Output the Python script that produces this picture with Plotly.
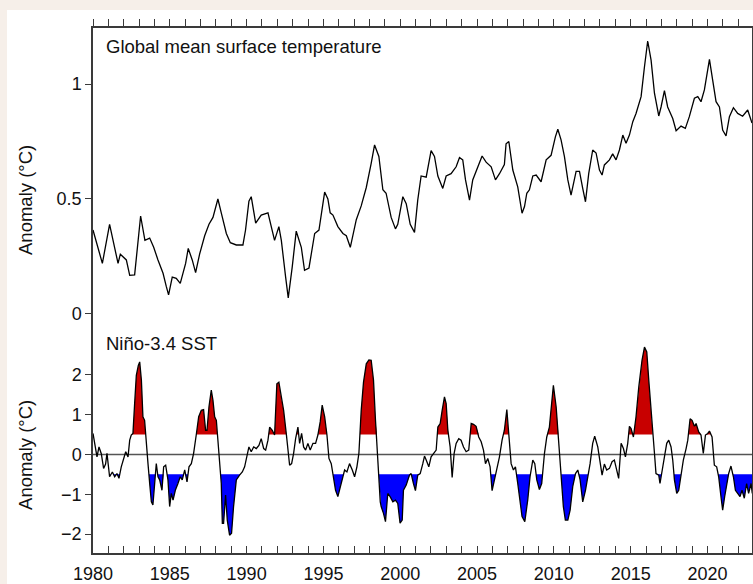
import plotly.graph_objects as go

# ---------------- data ----------------
gmst_years = [1980.00, 1980.61, 1981.08, 1981.63, 1981.78, 1982.17, 1982.39, 1982.71, 1983.10, 1983.38,
              1983.69, 1983.95, 1984.23, 1984.56, 1984.77, 1984.92, 1985.16, 1985.42, 1985.68, 1986.03,
              1986.20, 1986.46, 1986.68, 1986.94, 1987.27, 1987.55, 1987.81, 1988.13, 1988.35, 1988.68,
              1988.94, 1989.33, 1989.76, 1989.93, 1990.15, 1990.30, 1990.59, 1990.95, 1991.39, 1991.61,
              1991.82, 1992.10, 1992.26, 1992.54, 1992.71, 1992.97, 1993.23, 1993.56, 1993.77, 1994.06,
              1994.43, 1994.71, 1994.86, 1995.08, 1995.29, 1995.44, 1995.62, 1995.94, 1996.27, 1996.49,
              1996.75, 1997.14, 1997.46, 1997.79, 1998.11, 1998.33, 1998.61, 1998.87, 1999.08, 1999.41,
              1999.69, 1999.84, 2000.17, 2000.39, 2000.65, 2000.93, 2001.14, 2001.36, 2001.69, 2002.01,
              2002.23, 2002.45, 2002.77, 2002.99, 2003.31, 2003.64, 2003.86, 2004.07, 2004.25, 2004.51,
              2004.72, 2005.05, 2005.33, 2005.59, 2005.92, 2006.20, 2006.46, 2006.78, 2006.89, 2007.07,
              2007.33, 2007.65, 2007.93, 2008.09, 2008.24, 2008.41, 2008.63, 2008.85, 2009.17, 2009.50,
              2009.82, 2010.10, 2010.26, 2010.47, 2010.69, 2010.91, 2011.12, 2011.45, 2011.67, 2011.88,
              2012.06, 2012.27, 2012.53, 2012.75, 2012.97, 2013.14, 2013.29, 2013.62, 2013.83, 2014.05,
              2014.27, 2014.49, 2014.70, 2014.92, 2015.14, 2015.35, 2015.68, 2015.90, 2016.11, 2016.33,
              2016.55, 2016.83, 2016.98, 2017.20, 2017.41, 2017.74, 2017.96, 2018.28, 2018.56, 2018.82,
              2019.15, 2019.37, 2019.58, 2019.80, 2020.13, 2020.34, 2020.56, 2020.78, 2020.99, 2021.21,
              2021.43, 2021.69, 2021.97, 2022.29, 2022.62, 2022.90]
gmst_vals = [0.365, 0.22, 0.39, 0.22, 0.26, 0.235, 0.168, 0.17, 0.426, 0.32,
             0.33, 0.29, 0.235, 0.177, 0.12, 0.083, 0.16, 0.155, 0.133, 0.22,
             0.285, 0.235, 0.18, 0.26, 0.34, 0.39, 0.42, 0.50, 0.44, 0.35,
             0.31, 0.30, 0.30, 0.365, 0.49, 0.51, 0.395, 0.43, 0.44, 0.38,
             0.32, 0.38, 0.32, 0.16, 0.07, 0.205, 0.36, 0.29, 0.19, 0.20,
             0.35, 0.365, 0.44, 0.53, 0.50, 0.44, 0.43, 0.38, 0.35, 0.34,
             0.29, 0.41, 0.47, 0.55, 0.655, 0.735, 0.685, 0.54, 0.525, 0.42,
             0.37, 0.39, 0.51, 0.48, 0.39, 0.355, 0.495, 0.60, 0.595, 0.71,
             0.685, 0.60, 0.546, 0.60, 0.61, 0.64, 0.68, 0.67, 0.583, 0.495,
             0.583, 0.64, 0.687, 0.66, 0.64, 0.583, 0.61, 0.65, 0.74, 0.75,
             0.626, 0.553, 0.438, 0.467, 0.525, 0.54, 0.60, 0.604, 0.575, 0.67,
             0.69, 0.77, 0.803, 0.757, 0.684, 0.583, 0.517, 0.62, 0.62, 0.546,
             0.488, 0.61, 0.713, 0.70, 0.626, 0.604, 0.648, 0.67, 0.696, 0.67,
             0.713, 0.778, 0.742, 0.778, 0.836, 0.872, 0.945, 1.075, 1.187, 1.104,
             0.96, 0.861, 0.90, 0.971, 0.90, 0.85, 0.797, 0.817, 0.807, 0.858,
             0.938, 0.945, 0.923, 0.974, 1.107, 1.017, 0.923, 0.90, 0.80, 0.774,
             0.858, 0.897, 0.872, 0.86, 0.887, 0.83]

nino_years = [1980.00, 1980.11, 1980.26, 1980.39, 1980.54, 1980.69, 1980.82, 1980.91, 1981.08, 1981.26,
              1981.41, 1981.56, 1981.69, 1981.84, 1982.00, 1982.13, 1982.28, 1982.39, 1982.49, 1982.60,
              1982.71, 1982.82, 1982.95, 1983.04, 1983.15, 1983.25, 1983.36, 1983.47, 1983.58, 1983.69,
              1983.80, 1983.90, 1984.01, 1984.12, 1984.23, 1984.34, 1984.49, 1984.60, 1984.73, 1984.88,
              1984.99, 1985.10, 1985.21, 1985.36, 1985.53, 1985.68, 1985.81, 1985.97, 1986.12, 1986.25,
              1986.40, 1986.55, 1986.72, 1986.88, 1987.05, 1987.20, 1987.33, 1987.42, 1987.55, 1987.70,
              1987.81, 1987.92, 1988.03, 1988.13, 1988.24, 1988.35, 1988.42, 1988.50, 1988.63, 1988.74,
              1988.89, 1989.02, 1989.15, 1989.33, 1989.54, 1989.72, 1989.87, 1990.02, 1990.15, 1990.30,
              1990.46, 1990.63, 1990.80, 1990.95, 1991.11, 1991.24, 1991.39, 1991.50, 1991.67, 1991.82,
              1991.97, 1992.10, 1992.26, 1992.41, 1992.58, 1992.69, 1992.80, 1992.93, 1993.06, 1993.19,
              1993.34, 1993.45, 1993.58, 1993.71, 1993.84, 1993.99, 1994.14, 1994.32, 1994.49, 1994.64,
              1994.79, 1994.92, 1995.08, 1995.23, 1995.36, 1995.51, 1995.62, 1995.79, 1995.94, 1996.10,
              1996.27, 1996.38, 1996.53, 1996.70, 1996.88, 1997.03, 1997.18, 1997.31, 1997.46, 1997.61,
              1997.79, 1997.96, 1998.11, 1998.26, 1998.39, 1998.48, 1998.61, 1998.70, 1998.76, 1998.91,
              1999.04, 1999.19, 1999.34, 1999.52, 1999.69, 1999.84, 1999.99, 2000.13, 2000.21, 2000.39,
              2000.60, 2000.71, 2000.86, 2000.99, 2001.14, 2001.30, 2001.47, 2001.58, 2001.69, 2001.86,
              2002.01, 2002.16, 2002.34, 2002.45, 2002.60, 2002.73, 2002.88, 2002.99, 2003.10, 2003.25,
              2003.38, 2003.51, 2003.64, 2003.81, 2003.96, 2004.12, 2004.29, 2004.46, 2004.62, 2004.77,
              2004.94, 2005.11, 2005.27, 2005.42, 2005.55, 2005.70, 2005.85, 2005.98, 2006.13, 2006.29,
              2006.46, 2006.63, 2006.78, 2006.94, 2007.07, 2007.22, 2007.37, 2007.50, 2007.65, 2007.80,
              2007.93, 2008.11, 2008.30, 2008.45, 2008.63, 2008.76, 2008.89, 2009.06, 2009.21, 2009.39,
              2009.54, 2009.71, 2009.84, 2009.97, 2010.15, 2010.30, 2010.47, 2010.62, 2010.75, 2010.91,
              2011.06, 2011.23, 2011.41, 2011.56, 2011.71, 2011.88, 2012.06, 2012.21, 2012.36, 2012.53,
              2012.66, 2012.86, 2013.01, 2013.14, 2013.29, 2013.44, 2013.62, 2013.79, 2013.94, 2014.09,
              2014.22, 2014.38, 2014.53, 2014.66, 2014.81, 2014.92, 2015.03, 2015.18, 2015.35, 2015.53,
              2015.74, 2015.90, 2016.05, 2016.18, 2016.33, 2016.44, 2016.55, 2016.65, 2016.83, 2016.91,
              2017.04, 2017.20, 2017.35, 2017.48, 2017.63, 2017.74, 2017.85, 2018.00, 2018.13, 2018.28,
              2018.43, 2018.61, 2018.72, 2018.87, 2019.00, 2019.15, 2019.26, 2019.43, 2019.58, 2019.73,
              2019.87, 2020.02, 2020.13, 2020.30, 2020.45, 2020.60, 2020.73, 2020.88, 2020.99, 2021.12,
              2021.25, 2021.38, 2021.53, 2021.69, 2021.82, 2021.97, 2022.12, 2022.25, 2022.40, 2022.55,
              2022.68, 2022.84, 2022.92]
nino_vals = [0.53, 0.23, -0.06, 0.19, 0.02, -0.35, -0.24, 0.03, -0.56, -0.44,
             -0.56, -0.48, -0.60, -0.31, -0.10, 0.07, -0.06, 0.36, 0.49, 0.53,
             1.28, 1.99, 2.24, 2.33, 1.87, 0.95, 0.86, 0.19, -0.23, -0.73,
             -1.19, -1.27, -0.73, -0.23, -0.56, -0.64, -0.90, -0.31, -0.27, -0.64,
             -1.31, -0.98, -1.15, -0.90, -0.73, -0.56, -0.64, -0.39, -0.69, -0.31,
             -0.23, 0.03, 0.49, 0.95, 1.11, 1.13, 0.61, 0.61, 1.20, 1.62,
             1.36, 0.95, 0.86, 0.28, -0.14, -0.73, -1.73, -1.73, -1.02, -1.65,
             -2.03, -1.98, -1.31, -0.64, -0.52, -0.44, -0.31, -0.02, 0.19, 0.07,
             0.19, 0.15, 0.23, 0.40, 0.15, 0.11, 0.36, 0.69, 0.61, 0.49,
             1.78, 1.82, 1.41, 1.11, 0.53, 0.03, -0.27, -0.23, 0.03, 0.40,
             0.69, 0.28, 0.53, 0.19, 0.11, 0.28, 0.11, 0.28, 0.28, 0.49,
             0.82, 1.24, 0.95, 0.49, -0.10, -0.23, -0.48, -0.90, -1.06, -0.81,
             -0.56, -0.39, -0.44, -0.23, -0.39, -0.56, -0.31, 0.03, 1.11, 1.82,
             2.28, 2.38, 2.37, 1.87, 0.86, 0.19, -0.56, -1.19, -1.31, -1.48,
             -1.69, -0.98, -1.06, -1.19, -1.15, -1.23, -1.73, -1.65, -0.90, -0.77,
             -0.52, -0.48, -0.73, -0.91, -0.52, -0.48, -0.23, -0.04, -0.14, -0.31,
             -0.06, 0.03, 0.11, 0.69, 0.78, 1.11, 1.45, 1.28, 0.61, 0.19,
             -0.58, 0.03, 0.28, 0.40, 0.36, 0.19, 0.07, 0.11, 0.78, 0.76,
             0.71, 0.44, 0.32, 0.11, -0.23, -0.10, -0.31, -0.91, -0.64, -0.35,
             -0.06, 0.36, 0.61, 1.13, 0.44, -0.23, -0.39, -0.31, -0.73, -1.15,
             -1.56, -1.69, -1.15, -0.56, -0.14, -0.23, -0.64, -0.88, -0.73, 0.03,
             0.44, 0.69, 1.20, 1.74, 1.20, 0.44, -0.48, -1.31, -1.65, -1.65,
             -1.40, -0.81, -0.48, -0.39, -0.64, -1.19, -0.90, -0.56, -0.23, 0.28,
             0.46, 0.19, -0.14, -0.52, -0.24, -0.39, -0.35, -0.18, -0.14, -0.35,
             -0.60, 0.28, 0.15, -0.06, 0.28, 0.71, 0.65, 0.44, 0.95, 1.70,
             2.37, 2.70, 2.58, 1.87, 1.03, 0.49, 0.03, -0.48, -0.52, -0.73,
             -0.39, -0.06, 0.28, 0.36, 0.19, -0.14, -0.64, -0.98, -0.90, -0.48,
             -0.14, 0.15, 0.36, 0.90, 0.86, 0.71, 0.78, 0.57, 0.49, 0.03,
             0.49, 0.53, 0.59, 0.44, -0.27, -0.31, -0.56, -1.06, -1.40, -1.06,
             -0.77, -0.48, -0.29, -0.56, -0.90, -0.98, -1.06, -0.90, -1.10, -0.73,
             -0.98, -0.73, -0.98]

x_range = [1980, 2022.9]
gmst_title = "Global mean surface temperature"
nino_title = "Niño-3.4 SST"
y_title = "Anomaly (°C)"
warm_threshold = 0.5
cold_threshold = -0.5

# ---------------- helpers ----------------
def clip_series(x, y, thr, above):
    xs, ys = [], []
    for i in range(len(x)):
        if i > 0:
            a, b = y[i - 1] - thr, y[i] - thr
            if a * b < 0:
                t = a / (a - b)
                xs.append(x[i - 1] + t * (x[i] - x[i - 1]))
                ys.append(thr)
        xs.append(x[i])
        ys.append(y[i])
    clipped = [max(v, thr) if above else min(v, thr) for v in ys]
    return xs, clipped

FONT = "Liberation Sans, Arial, sans-serif"
AXC = "#3a3a3a"
TXT = "#111111"

fig = go.Figure()

# fills for Niño-3.4
for thr, above, col in [(warm_threshold, True, "#c80000"), (cold_threshold, False, "#0000ff")]:
    xs, cs = clip_series(nino_years, nino_vals, thr, above)
    fig.add_trace(go.Scatter(x=xs, y=[thr] * len(xs), mode="lines", line=dict(width=0),
                             xaxis="x2", yaxis="y2", showlegend=False, hoverinfo="skip"))
    fig.add_trace(go.Scatter(x=xs, y=cs, mode="lines", line=dict(width=0), fill="tonexty",
                             fillcolor=col, xaxis="x2", yaxis="y2", showlegend=False, hoverinfo="skip"))

fig.add_trace(go.Scatter(x=nino_years, y=nino_vals, mode="lines",
                         line=dict(color="black", width=1.3), xaxis="x2", yaxis="y2", showlegend=False))
fig.add_trace(go.Scatter(x=gmst_years, y=gmst_vals, mode="lines",
                         line=dict(color="black", width=1.3), xaxis="x", yaxis="y", showlegend=False))

split = 0.4248
common_axis = dict(showline=True, linecolor=AXC, linewidth=1.5, showgrid=False, zeroline=False,
                   tickcolor=AXC, tickwidth=1.2, automargin=False,
                   tickfont=dict(family=FONT, size=18, color=TXT))

fig.update_layout(
    width=753, height=584,
    margin=dict(l=93, r=1, t=28, b=31, autoexpand=False),
    paper_bgcolor="white", plot_bgcolor="white",
    xaxis=dict(domain=[0, 1], anchor="y", range=x_range, side="top", ticks="outside",
               tick0=1980, dtick=1, ticklen=7, showticklabels=False, **common_axis),
    yaxis=dict(domain=[split, 1], anchor="x", range=[-0.0696, 1.2435], ticks="outside",
               tickvals=[0, 0.5, 1], ticktext=["0", "0.5", "1"], ticklen=6, mirror=True, **common_axis),
    xaxis2=dict(domain=[0, 1], anchor="y2", range=x_range, ticks="inside", tick0=1980, dtick=5,
                ticklen=7, ticklabelstandoff=4,
                minor=dict(dtick=1, tick0=1980, ticks="inside", ticklen=7, tickcolor=AXC, tickwidth=1.2),
                **common_axis),
    yaxis2=dict(domain=[0, split], anchor="x2", range=[-2.478, 3.132], ticks="outside",
                tickvals=[-2, -1, 0, 1, 2], ticktext=["\u22122", "\u22121", "0", "1", "2"], ticklen=6,
                mirror=True, **common_axis),
    showlegend=False,
)

# zero line in the Niño panel
fig.add_shape(type="line", xref="x2 domain", yref="y2", x0=0, x1=1, y0=0, y1=0,
              line=dict(color="#555555", width=1.5), layer="below")

# beige page margins
BEIGE = "#f6efe9"
fig.add_shape(type="rect", xref="paper", yref="paper", x0=-0.2, x1=1.1, y0=1.0343, y1=1.1,
              fillcolor=BEIGE, line=dict(width=0), layer="above")
fig.add_shape(type="rect", xref="paper", yref="paper", x0=-0.2, x1=-0.1305, y0=-0.2, y1=1.1,
              fillcolor=BEIGE, line=dict(width=0), layer="above")

# texts
fig.add_annotation(text=gmst_title, xref="paper", yref="paper", x=0.0167, y=0.9657,
                   xanchor="left", yanchor="middle", showarrow=False,
                   font=dict(family=FONT, size=18.5, color=TXT))
fig.add_annotation(text=nino_title, xref="paper", yref="paper", x=0.0167, y=0.40,
                   xanchor="left", yanchor="middle", showarrow=False,
                   font=dict(family=FONT, size=18.5, color=TXT))
for yy in [0.6724, 0.1867]:
    fig.add_annotation(text=y_title, xref="paper", yref="paper", x=-0.1017, y=yy,
                       xanchor="center", yanchor="middle", textangle=-90, showarrow=False,
                       font=dict(family=FONT, size=18.5, color=TXT))

fig.write_html("out.html", config={"displayModeBar": False},
               post_script="document.body.style.margin='0px';document.body.style.overflow='hidden';")
